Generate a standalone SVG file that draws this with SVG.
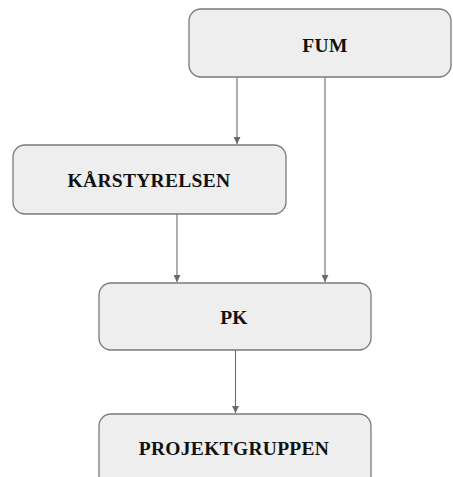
<svg xmlns="http://www.w3.org/2000/svg" width="453" height="477" viewBox="0 0 453 477">
<style>
.box{fill:#eeeeee;stroke:#7a7a7a;stroke-width:1.3}
.lbl{font-family:"Liberation Serif",serif;font-weight:bold;font-size:19.5px;fill:#111;text-anchor:middle;letter-spacing:0.3px}
.edge{stroke:#6a6a6a;stroke-width:1.1;fill:none;marker-end:url(#arr)}
</style>
<defs>
<marker id="arr" viewBox="0 0 10 10" refX="10" refY="5" markerWidth="7" markerHeight="7" markerUnits="userSpaceOnUse" orient="auto">
<path d="M0,0 L10,5 L0,10 z" fill="#6a6a6a"/>
</marker>
</defs>
<g id="connectors">
<line class="edge" x1="237" y1="77" x2="237" y2="144"/>
<line class="edge" x1="325" y1="77" x2="325" y2="282"/>
<line class="edge" x1="177" y1="214" x2="177" y2="282"/>
<line class="edge" x1="235.5" y1="350" x2="235.5" y2="413"/>
</g>
<g id="fum">
<rect class="box" x="189" y="9" width="262" height="68" rx="12"/>
<text class="lbl" x="325" y="52">FUM</text>
</g>
<g id="karstyrelsen">
<rect class="box" x="13" y="145" width="273" height="69" rx="12"/>
<text class="lbl" x="149" y="187">KÅRSTYRELSEN</text>
</g>
<g id="pk">
<rect class="box" x="99" y="283" width="272" height="67" rx="12"/>
<text class="lbl" x="234" y="324">PK</text>
</g>
<g id="projektgruppen">
<rect class="box" x="99" y="414" width="272" height="75" rx="12"/>
<text class="lbl" x="234" y="455">PROJEKTGRUPPEN</text>
</g>
</svg>
